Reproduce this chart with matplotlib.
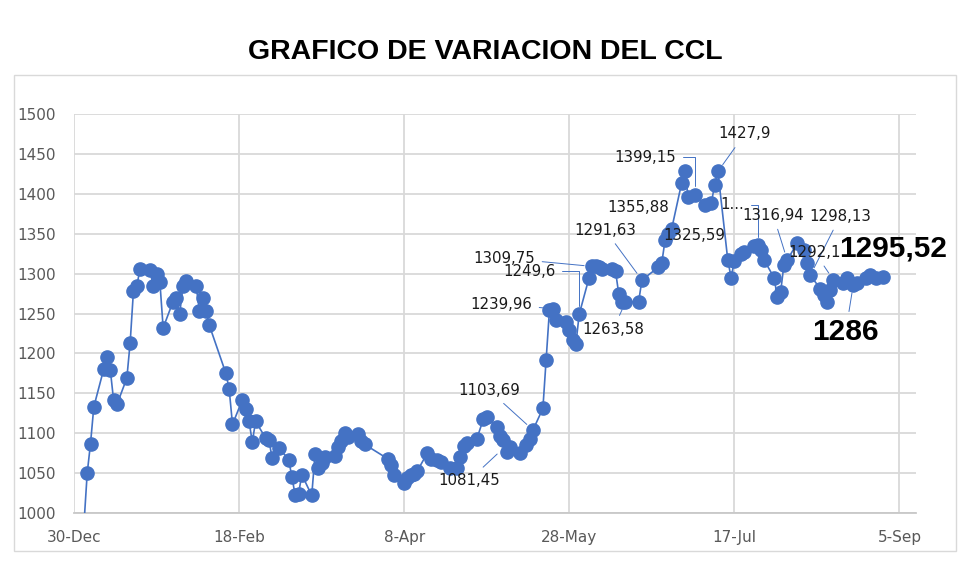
import matplotlib
matplotlib.use("Agg")
from matplotlib import pyplot as plt
from matplotlib.patches import Rectangle
import pandas as pd

# --------------------------------------------
# data (days counted from 30-Dec)
start = pd.Timestamp("2023-12-30")
day = [3, 4, 5, 6, 9, 10, 11, 12, 13, 16, 17, 18, 19, 20, 23, 24, 25, 26, 27,
       30, 31, 32, 33, 34, 37, 38, 39, 40, 41, 46, 47, 48, 51, 52, 53, 54, 55,
       58, 59, 60, 62, 65, 66, 67, 68, 69, 72, 73, 74, 75, 76, 79, 80, 81, 82,
       83, 86, 87, 88, 95, 96, 97, 100, 101, 102, 103, 104, 107, 108, 110, 111,
       114, 116, 117, 118, 119, 122, 124, 125, 128, 129, 130, 131, 132, 135,
       137, 138, 139, 142, 143, 144, 145, 146, 149, 150, 151, 152, 153, 156,
       157, 158, 159, 160, 163, 164, 165, 166, 167, 171, 172, 177, 178, 179,
       180, 181, 184, 185, 186, 188, 191, 193, 194, 195, 198, 199, 200, 202,
       203, 206, 207, 208, 209, 212, 213, 214, 215, 216, 219, 221, 222, 223,
       226, 227, 228, 229, 230, 233, 234, 236, 237, 240, 241, 243, 245]
ccl = [985, 1050, 1087, 1133, 1180, 1196, 1179, 1141, 1136, 1169, 1213, 1278,
       1284, 1306, 1304, 1284, 1299, 1290, 1232, 1265, 1269, 1249, 1285, 1291,
       1284, 1253, 1269, 1253, 1235, 1175, 1155, 1111, 1142, 1130, 1115, 1089,
       1115, 1094, 1092, 1069, 1082, 1067, 1045, 1022, 1024, 1048, 1022, 1074,
       1056, 1063, 1070, 1072, 1083, 1090, 1100, 1095, 1099, 1090, 1086, 1068,
       1060, 1047, 1037, 1044, 1047, 1049, 1053, 1075, 1068, 1066, 1064, 1057,
       1057, 1070, 1084, 1088, 1093, 1118, 1120, 1108, 1097, 1091, 1077, 1083,
       1075, 1085, 1093, 1104, 1131, 1192, 1255, 1256, 1242, 1239, 1229, 1217,
       1212, 1249, 1295, 1309, 1309, 1308, 1306, 1306, 1303, 1274, 1264, 1264,
       1265, 1292, 1308, 1313, 1342, 1350, 1356, 1413, 1428, 1396, 1399, 1386,
       1388, 1411, 1428, 1317, 1295, 1316, 1325, 1327, 1334, 1336, 1330, 1317,
       1295, 1271, 1277, 1311, 1317, 1338, 1329, 1313, 1298, 1281, 1273, 1265,
       1279, 1292, 1288, 1294, 1286, 1288, 1294, 1298, 1294, 1295.52]

tick_days = [0, 50, 100, 150, 200, 250]
tick_labels = ["30-Dec", "18-Feb", "8-Apr", "28-May", "17-Jul", "5-Sep"]

# label text, day/value of the point, day/value of the text, alignment, elbow
labels = [
    ("1309,75", 157, 1309, 139.7, 1319.4, "right", False),
    ("1249,6", 153, 1249, 145.8, 1303.0, "right", True),
    ("1239,96", 145, 1256, 138.8, 1261.7, "right", False),
    ("1263,58", 167, 1264, 153.9, 1230.0, "left", False),
    ("1291,63", 172, 1292, 151.5, 1354.5, "left", False),
    ("1355,88", None, None, 161.5, 1383.4, "left", False),
    ("1399,15", 188, 1399, 163.6, 1446.0, "left", True),
    ("1427,9", 195, 1428, 195.2, 1475.0, "left", False),
    ("1325,59", None, None, 178.5, 1347.6, "left", False),
    ("1...", 207, 1336, 195.8, 1386.0, "left", True),
    ("1316,94", 216, 1317, 202.4, 1373.4, "left", False),
    ("1298,13", 223, 1298, 222.7, 1372.0, "left", False),
    ("1292,1", 230, 1292, 216.4, 1326.7, "left", False),
    ("1103,69", 139, 1104, 116.4, 1153.7, "left", False),
    ("1081,45", 130, 1081, 110.3, 1041.0, "left", False),
]
big_labels = [
    ("1295,52", None, None, 231.8, 1331.5),
    ("1286", 236, 1286, 223.6, 1226.3),
]

dates = start + pd.to_timedelta(day, unit="D")
def d(n):
    return start + pd.Timedelta(days=n)

# --------------------------------------------
blue = "#4472C4"
fig = plt.figure(figsize=(9.8, 5.69), dpi=100)
ax = fig.add_axes([74/980, 1-513/569, (916-74)/980, (513-114)/569])

ax.plot(dates, ccl, color=blue, linewidth=1.2, marker="o", markersize=9.5,
        markerfacecolor=blue, markeredgecolor=blue, zorder=3)

ax.set_ylim(1000, 1500)
ax.set_yticks(range(1000, 1501, 50))
ax.set_xlim(d(0), d(255))
ax.set_xticks([d(t) for t in tick_days])
ax.set_xticklabels(tick_labels)

ax.grid(True, color="#d9d9d9", linewidth=1.3)
ax.set_axisbelow(True)
for s in ["top", "right", "left"]:
    ax.spines[s].set_visible(False)
ax.spines["bottom"].set_color("#c8c8c8")
ax.spines["bottom"].set_linewidth(1.3)
ax.tick_params(length=0, labelsize=11, labelcolor="#595959")
ax.tick_params(axis="y", pad=13)
ax.tick_params(axis="x", pad=12)

# data labels
for txt, px, py, tx, ty, ha, elbow in labels:
    if px is None:
        ax.text(d(tx), ty, txt, ha=ha, va="center", fontsize=10.8,
                color="#1a1a1a", zorder=5)
    else:
        cs = "angle,angleA=0,angleB=90,rad=0" if elbow else "arc3"
        ax.annotate(txt, xy=(d(px), py), xytext=(d(tx), ty), ha=ha,
                    va="center", fontsize=10.8, color="#1a1a1a", zorder=5,
                    arrowprops=dict(arrowstyle="-", color=blue, lw=0.7,
                                    shrinkA=3, shrinkB=6,
                                    connectionstyle=cs))
for txt, px, py, tx, ty in big_labels:
    if px is None:
        ax.text(d(tx), ty, txt, ha="left", va="center", fontsize=21.5,
                fontweight="bold", family="Liberation Sans", color="black",
                zorder=6)
    else:
        ax.annotate(txt, xy=(d(px), py), xytext=(d(tx), ty), ha="left",
                    va="center", fontsize=21.5, fontweight="bold",
                    family="Liberation Sans", color="black", zorder=6,
                    arrowprops=dict(arrowstyle="-", color=blue, lw=0.7,
                                    shrinkA=3, shrinkB=6))

fig.text(485.5/980, 1-52/569, "GRAFICO DE VARIACION DEL CCL", ha="center",
         va="center", fontsize=20.5, fontweight="bold", family="Liberation Sans")
fig.add_artist(Rectangle((13.5/980, 1-551/569), (956-13.5)/980, (551-75)/569,
                         transform=fig.transFigure, fill=False,
                         edgecolor="#d9d9d9", linewidth=1))

fig.savefig("out.png", dpi=100)
